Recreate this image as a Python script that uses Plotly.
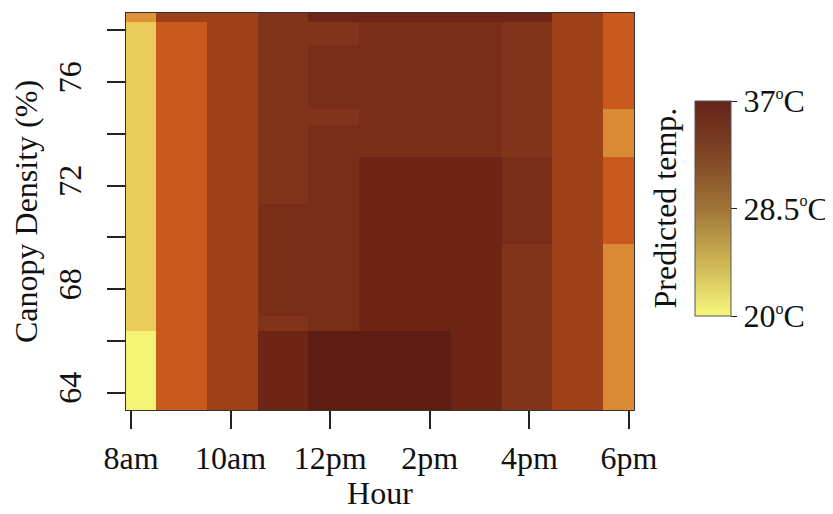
import plotly.graph_objects as go

# ---- data ----
hour_edges = [7.9, 8.5, 9.53, 10.55, 11.56, 12.58, 13.5, 14.43, 15.44, 16.46, 17.48, 18.1]
density_edges = [63.33, 66.39, 66.98, 69.76, 71.30, 73.11, 74.35, 74.97, 77.42, 78.33, 78.67]

hour_ticks = [8, 10, 12, 14, 16, 18]
hour_labels = ["8am", "10am", "12pm", "2pm", "4pm", "6pm"]
density_ticks = [64, 66, 68, 70, 72, 74, 76, 78]
density_labels = ["64", "", "68", "", "72", "", "76", ""]

# predicted temperature (°C); rows bottom -> top, columns 8am -> 6pm
temp_grid = [
    [20.3, 27.6, 30.4, 34.5, 36.3, 36.3, 36.3, 34.5, 32.3, 30.4, 25.6],
    [22.6, 27.6, 30.4, 32.3, 33.4, 34.5, 34.5, 34.5, 32.3, 30.4, 25.6],
    [22.6, 27.6, 30.4, 33.4, 33.4, 34.5, 34.5, 34.5, 32.3, 30.4, 25.6],
    [22.6, 27.6, 30.4, 33.4, 33.4, 34.5, 34.5, 34.5, 33.4, 30.4, 27.6],
    [22.6, 27.6, 30.4, 32.3, 33.4, 34.5, 34.5, 34.5, 33.4, 30.4, 27.6],
    [22.6, 27.6, 30.4, 32.3, 33.4, 33.4, 33.4, 33.4, 32.3, 30.4, 25.6],
    [22.6, 27.6, 30.4, 32.3, 32.3, 33.4, 33.4, 33.4, 32.3, 30.4, 25.6],
    [22.6, 27.6, 30.4, 32.3, 33.4, 33.4, 33.4, 33.4, 32.3, 30.4, 27.6],
    [22.6, 27.6, 30.4, 32.3, 32.3, 33.4, 33.4, 33.4, 32.3, 30.4, 27.6],
    [25.1, 30.4, 30.4, 32.3, 34.5, 34.5, 34.5, 34.5, 34.5, 30.4, 27.6],
]

t_min, t_max = 20, 37
bar_ticks = [20, 28.5, 37]
bar_values = ["20", "28.5", "37"]

# ---- styling ----
FONT = "Liberation Serif"
FS = 32
DEG = '<sup><span style="font-size:72%">o</span></sup>C'
bar_labels = [v + DEG for v in bar_values]
# the page body adds an 8px offset; sizes below compensate so the plot area
# lands at x 126-634, y 13-410 of the 833x514 window
W, H = 825, 506
L, T = 118, 5
PW, PH = 508, 397

cell_stops = [
    (20.0, "#F6F87A"), (22.6, "#EACA58"), (25.1, "#E0923A"), (25.6, "#DA8A34"),
    (27.6, "#C85A1E"), (30.4, "#9E4119"), (32.3, "#82341A"), (33.4, "#7A2D17"),
    (34.5, "#6E2516"), (36.3, "#5E1D13"), (37.0, "#5A1B12"),
]
cell_scale = [[(t - t_min) / (t_max - t_min), c] for t, c in cell_stops]
bar_scale = [[0, "#F7F87C"], [0.25, "#CDB454"], [0.5, "#A07538"],
             [0.75, "#7F4524"], [1, "#66221A"]]

fig = go.Figure()
fig.add_trace(go.Heatmap(
    x=hour_edges, y=density_edges, z=temp_grid,
    colorscale=cell_scale, zmin=t_min, zmax=t_max,
    showscale=False, hoverinfo="skip",
))
fig.add_trace(go.Scatter(
    x=[None], y=[None], mode="markers", showlegend=False,
    marker=dict(
        color=[t_min], cmin=t_min, cmax=t_max, colorscale=bar_scale, showscale=True,
        colorbar=dict(
            x=(695 - 126) / PW, xanchor="left", xpad=0,
            y=(410 - 208.5) / PH, yanchor="middle", ypad=0,
            lenmode="pixels", len=215, thicknessmode="pixels", thickness=36,
            outlinewidth=1, outlinecolor="#555",
            tickvals=bar_ticks, ticktext=bar_labels,
            ticks="outside", ticklen=6, tickcolor="#222",
            tickfont=dict(family=FONT, size=FS, color="#111"),
        ),
    ),
))

fig.add_annotation(
    x=(664 - 126) / PW, y=(410 - 208.5) / PH, xref="paper", yref="paper",
    xanchor="center", yanchor="middle",
    text="Predicted temp.", textangle=-90, showarrow=False,
    font=dict(family=FONT, size=FS, color="#111"),
)

axis_font = dict(family=FONT, size=FS, color="#111")
fig.update_xaxes(
    range=[7.9, 18.1], tickvals=hour_ticks, ticktext=hour_labels,
    ticks="outside", ticklen=18, tickwidth=1.5, tickcolor="#222",
    showline=True, mirror=True, linecolor="#333", linewidth=1.2,
    showgrid=False, zeroline=False, tickfont=axis_font, ticklabelstandoff=1,
    title=dict(text="Hour", font=axis_font, standoff=4),
)
fig.update_yaxes(
    range=[63.33, 78.67], tickvals=density_ticks, ticktext=density_labels,
    ticks="outside", ticklen=18, tickwidth=1.5, tickcolor="#222", tickangle=-90,
    showline=True, mirror=True, linecolor="#333", linewidth=1.2,
    showgrid=False, zeroline=False, tickfont=axis_font, ticklabelstandoff=13,
    title=dict(text="Canopy Density (%)", font=axis_font, standoff=11),
)
fig.update_layout(
    width=W, height=H,
    margin=dict(l=L, r=W - L - PW, t=T, b=H - T - PH, autoexpand=False),
    paper_bgcolor="white", plot_bgcolor="white",
)
fig.write_html("out.html")
